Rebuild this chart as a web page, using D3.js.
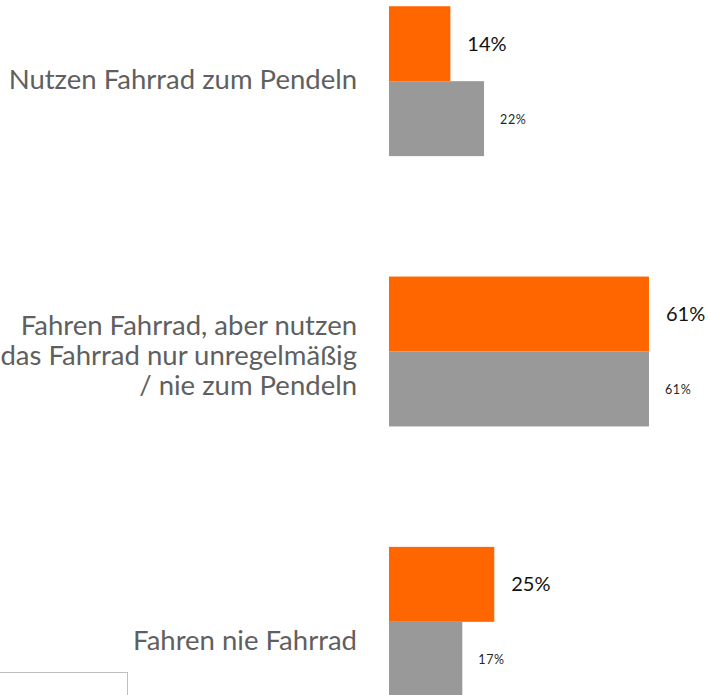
<!DOCTYPE html>
<html>
<head>
<meta charset="utf-8">
<script src="https://cdn.jsdelivr.net/npm/d3@7"></script>
<style>
  body { margin: 0; background: #fff; }
  .cat { font-family: Lato, "Open Sans", sans-serif; fill: #5f5f5f; }
  .val { font-family: Lato, "Open Sans", sans-serif; }
</style>
</head>
<body>
<div id="chart"></div>
<script>
(function(){
	var width = 708,
	height = 695;

	// data
	var categories = ["Nutzen Fahrrad zum Pendeln",
		"Fahren Fahrrad, aber nutzen|das Fahrrad nur unregelmäßig|/ nie zum Pendeln",
		"Fahren nie Fahrrad"];
	var seriesNames = ["orange", "grau"];
	var orangeValues = [0.144, 0.61, 0.247];
	var grayValues = [0.223, 0.61, 0.172];

	var colors = { orange: "#ff6600", grau: "#999999" };
	var labelShift = [0, 5, 20]; // nudge of category labels, like in the original slide

	var svg = d3.select("#chart")
		.append("svg")
		.attr("width", width)
		.attr("height", height);

	var y = d3.scaleBand()
		.domain(categories)
		.range([-54, 757])
		.paddingInner(0.4455)
		.paddingOuter(0.2228);

	var ySub = d3.scaleBand()
		.domain(seriesNames)
		.range([0, y.bandwidth()]);

	var x = d3.scaleLinear()
		.domain([0, 1])
		.range([389, 389 + 426.2]);

	var fmt = d3.format(".0%");

	var rows = categories.map(function(c, i){
		return { cat: c, i: i, vals: [
			{ s: "orange", v: orangeValues[i] },
			{ s: "grau", v: grayValues[i] }
		]};
	});

	var groups = svg.selectAll(".grp")
		.data(rows)
		.enter().append("g")
		.attr("class", "grp")
		.attr("transform", function(d){ return "translate(0," + y(d.cat) + ")"; });

	groups.selectAll("rect")
		.data(function(d){ return d.vals; })
		.enter().append("rect")
		.attr("x", x(0))
		.attr("y", function(d){ return ySub(d.s); })
		.attr("width", function(d){ return x(d.v) - x(0); })
		.attr("height", ySub.bandwidth())
		.attr("fill", function(d){ return colors[d.s]; });

	// value labels: big for orange, small for gray
	groups.selectAll(".val")
		.data(function(d){ return d.vals; })
		.enter().append("text")
		.attr("class", "val")
		.attr("x", function(d){ return x(d.v) + (d.s === "orange" ? 17 : 16); })
		.attr("y", function(d){ return ySub(d.s) + ySub.bandwidth()/2 + (d.s === "orange" ? 7 : 5); })
		.style("font-size", function(d){ return d.s === "orange" ? "20px" : "12.5px"; })
		.style("letter-spacing", function(d){ return d.s === "orange" ? "0px" : "0.6px"; })
		.attr("fill", function(d){ return d.s === "orange" ? "#111" : "#262626"; })
		.text(function(d){ return fmt(d.v); });

	// category labels
	var cl = groups.append("text")
		.attr("class", "cat")
		.attr("text-anchor", "end")
		.style("font-size", "27.5px")
		.attr("transform", function(d){
			return "translate(357," + (y.bandwidth()/2 + 8 + labelShift[d.i]) + ")";
		});

	cl.each(function(d){
		var lines = d.cat.split("|");
		var t = d3.select(this);
		lines.forEach(function(l, k){
			t.append("tspan")
				.attr("x", 0)
				.attr("y", (k - (lines.length - 1)/2) * 30)
				.text(l);
		});
	});

	// cut-off box in the lower left corner
	svg.append("rect")
		.attr("x", -2)
		.attr("y", 672.5)
		.attr("width", 129.5)
		.attr("height", 40)
		.attr("fill", "none")
		.attr("stroke", "#bfbfbf")
		.attr("stroke-width", 1);

})();
</script>
</body>
</html>
